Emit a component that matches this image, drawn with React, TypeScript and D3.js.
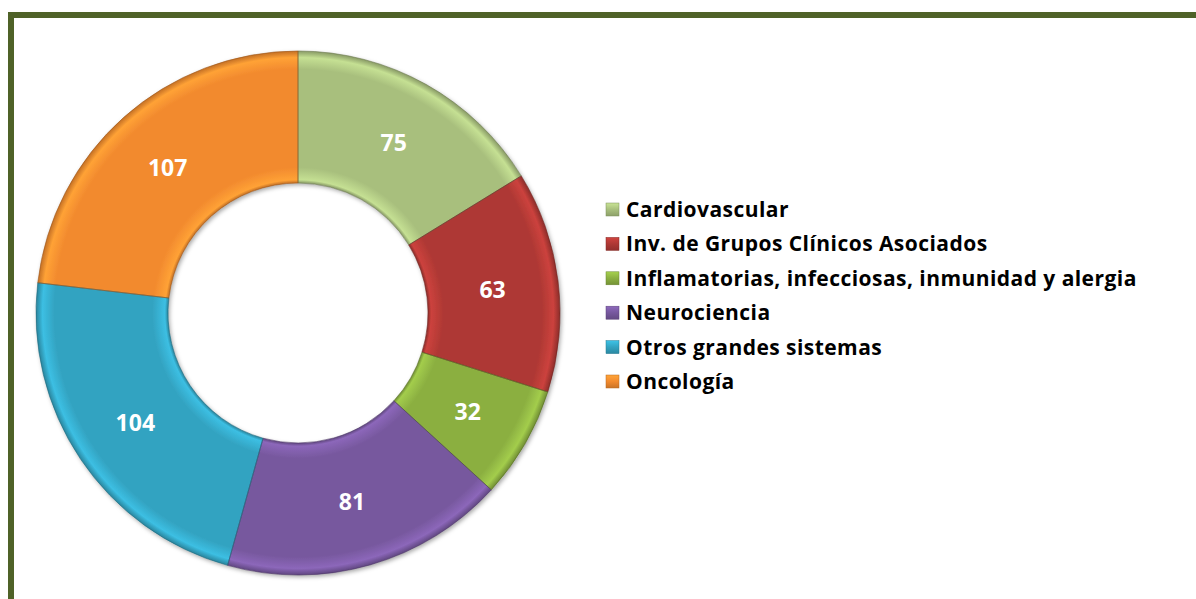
import React from "react";
import * as d3 from "d3";

const categories = [
  "Cardiovascular",
  "Inv. de Grupos Clínicos Asociados",
  "Inflamatorias, infecciosas, inmunidad y alergia",
  "Neurociencia",
  "Otros grandes sistemas",
  "Oncología",
];
const values = [75, 63, 32, 81, 104, 107];
const colors = ["#A8BF7D", "#AE3834", "#8BAF41", "#77589E", "#33A3C1", "#F28A2E"];

const W = 1196;
const H = 599;
const cx = 298;
const cy = 313;
const rOuter = 262;
const rInner = 130;

export default function App() {
  const pie = d3.pie<number>().sort(null).value((d) => d);
  const arcs = pie(values);
  const arcGen = d3.arc<d3.PieArcDatum<number>>().innerRadius(rInner).outerRadius(rOuter);
  const labelArc = d3.arc<d3.PieArcDatum<number>>().innerRadius(196).outerRadius(196);
  const innerFrac = rInner / rOuter;

  const legendY = d3.scalePoint<number>().domain(d3.range(categories.length)).range([209, 381]);

  return (
    <svg
      width={W}
      height={H}
      style={{ position: "absolute", left: 0, top: 0, fontFamily: "'Open Sans', sans-serif" }}
    >
      <defs>
        <filter id="shadow" x="-20%" y="-20%" width="140%" height="140%">
          <feDropShadow dx="1.5" dy="2" stdDeviation="2" floodColor="#000" floodOpacity="0.35" />
        </filter>
        {colors.map((c, i) => {
          const base = d3.color(c)!;
          const light = base.brighter(0.45).formatHex();
          const dark = base.darker(0.6).formatHex();
          return (
            <radialGradient key={i} id={`g${i}`} gradientUnits="userSpaceOnUse" cx={0} cy={0} r={rOuter}>
              <stop offset={innerFrac} stopColor={dark} />
              <stop offset={innerFrac + 0.012} stopColor={light} />
              <stop offset={innerFrac + 0.06} stopColor={c} />
              <stop offset={0.93} stopColor={c} />
              <stop offset={0.975} stopColor={light} />
              <stop offset={1} stopColor={dark} />
            </radialGradient>
          );
        })}
        {colors.map((c, i) => {
          const base = d3.color(c)!;
          return (
            <linearGradient key={i} id={`lg${i}`} x1="0" y1="0" x2="0" y2="1">
              <stop offset="0" stopColor={base.brighter(0.5).formatHex()} />
              <stop offset="0.5" stopColor={c} />
              <stop offset="1" stopColor={base.darker(0.5).formatHex()} />
            </linearGradient>
          );
        })}
      </defs>
      <rect x={0} y={0} width={W} height={H} fill="#fff" />
      <line x1={8} y1={15} x2={W} y2={15} stroke="#4F6228" strokeWidth={6} />
      <line x1={11} y1={12} x2={11} y2={H} stroke="#4F6228" strokeWidth={6} />

      <g transform={`translate(${cx},${cy})`} filter="url(#shadow)">
        {arcs.map((a, i) => (
          <path key={i} d={arcGen(a) || ""} fill={`url(#g${i})`} />
        ))}
      </g>
      <g transform={`translate(${cx},${cy})`}>
        {arcs.map((a, i) => (
          <path
            key={i}
            d={arcGen(a) || ""}
            fill="none"
            stroke={d3.color(colors[i])!.darker(1.2).formatHex()}
            strokeOpacity={0.6}
            strokeWidth={1}
          />
        ))}
        {arcs.map((a, i) => {
          const [x, y] = labelArc.centroid(a);
          return (
            <text
              key={i}
              x={x}
              y={y}
              textAnchor="middle"
              dominantBaseline="central"
              fill="#fff"
              fontWeight="bold"
              fontSize={23}
            >
              {values[i]}
            </text>
          );
        })}
      </g>

      <g>
        {categories.map((c, i) => {
          const y = legendY(i)!;
          return (
            <g key={i}>
              <rect x={606} y={y - 6} width={13} height={13} fill={`url(#lg${i})`} stroke={d3.color(colors[i])!.darker(0.8).formatHex()} strokeWidth={0.5} />
              <text x={626} y={y} dominantBaseline="central" fontWeight="bold" fontSize={21} letterSpacing={0.45} fill="#000">
                {c}
              </text>
            </g>
          );
        })}
      </g>
    </svg>
  );
}
